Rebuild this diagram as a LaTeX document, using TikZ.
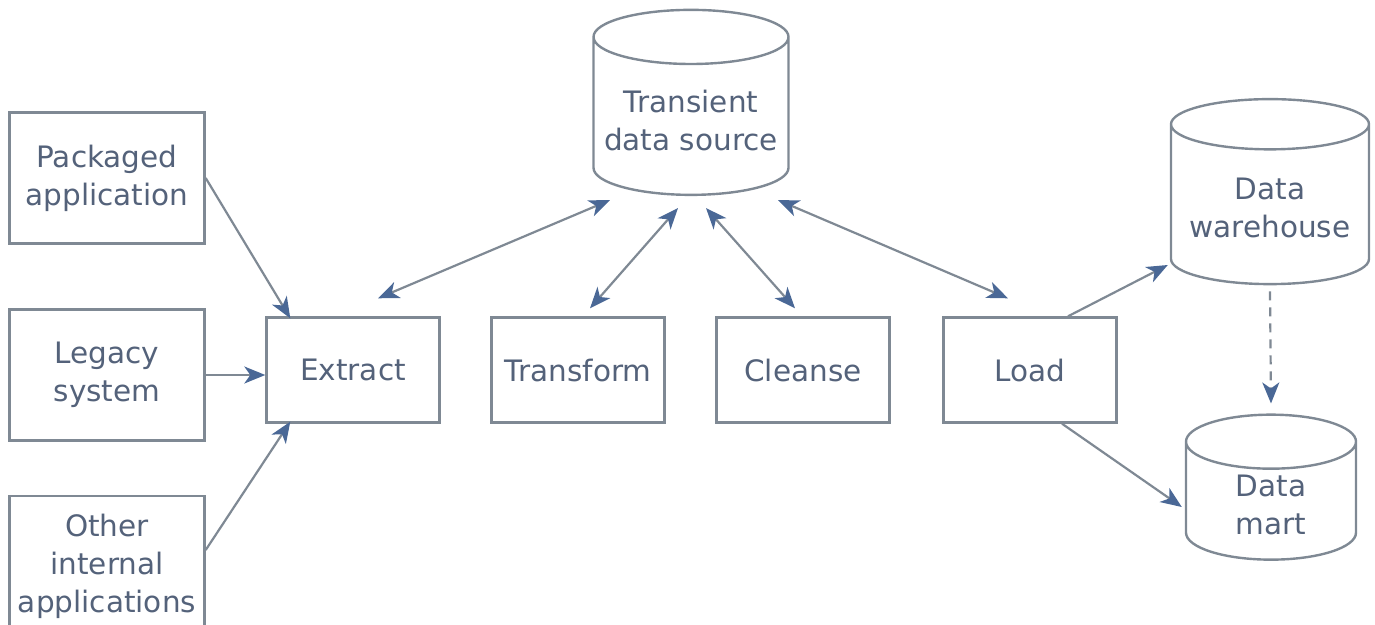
\documentclass[tikz,border=0pt]{standalone}
\usepackage{fontspec}
\setmainfont{DejaVu Sans}
\usepackage{xcolor}
\usetikzlibrary{positioning}
\usetikzlibrary{shapes.geometric,arrows.meta}
\definecolor{edgegray}{HTML}{7F8994}
\definecolor{textblue}{HTML}{54627A}
\definecolor{tipblue}{HTML}{4A6896}
\tikzset{%
  source/.style={rectangle, draw=edgegray, line width=2.4pt, minimum width=195pt, minimum height=131pt, align=center, text=textblue},
  stage/.style={rectangle, draw=edgegray, line width=2.4pt, minimum width=173pt, minimum height=105pt, align=center, text=textblue},
  store/.style={cylinder, shape border rotate=90, aspect=0.3, draw=edgegray, line width=2.4pt, align=center, text=textblue},
  flow/.style={draw=edgegray, line width=2.2pt, -{Stealth[length=21pt,width=17pt,inset=6pt,color=tipblue]}},
  twoway/.style={draw=edgegray, line width=2.2pt, {Stealth[length=21pt,width=17pt,inset=6pt,color=tipblue]}-{Stealth[length=21pt,width=17pt,inset=6pt,color=tipblue]}}
}

\begin{document}
\begin{tikzpicture}[x=1pt,y=-1pt,
    every node/.style={font=\fontsize{29.5}{38}\selectfont},
  ]
    \useasboundingbox (0,0) rectangle (1375,624);

    \node[source] (pkg) at (107,178) {Packaged\\application};
    \node[source] (legacy) at (107,375) {Legacy\\system};
    \node[source, minimum height=140pt] (other) at (107,566) {Other\\internal\\applications};

    \node[stage] (extract) at (353,370) {Extract};
    \node[stage] (transform) at (578,370) {Transform};
    \node[stage] (cleanse) at (803,370) {Cleanse};
    \node[stage] (load) at (1030,370) {Load};

    \node[store, minimum width=195pt, minimum height=185pt] (transient) at (691,120) {Transient\\data source};
    \node[store, minimum width=198pt, minimum height=185pt] (dw) at (1270,208) {Data\\warehouse};
    \node[store, aspect=0.7, minimum width=170pt, minimum height=145pt] (dm) at (1271,505) {Data\\mart};

    \draw[flow] (pkg.east) -- ([xshift=25pt,yshift=-2pt]extract.north west);
    \draw[flow] (legacy.east) -- ([yshift=-5pt]extract.west);
    \draw[flow] ([yshift=16pt]other.east) -- ([xshift=25pt,yshift=2pt]extract.south west);

    \draw[twoway] ([xshift=25pt,yshift=18pt]extract.north) -- ([xshift=-81pt,yshift=-4pt]transient.south);
    \draw[twoway] ([xshift=12pt,yshift=8pt]transform.north) -- ([xshift=-13pt,yshift=-12pt]transient.south);
    \draw[twoway] ([xshift=-8pt,yshift=8pt]cleanse.north) -- ([xshift=15pt,yshift=-12pt]transient.south);
    \draw[twoway] ([xshift=-22pt,yshift=18pt]load.north) -- ([xshift=87pt,yshift=-4pt]transient.south);

    \draw[flow] ([xshift=38pt]load.north) -- ([xshift=-2pt,yshift=-57pt]dw.west);
    \draw[flow] ([xshift=32pt]load.south) -- ([xshift=-3pt,yshift=-2pt]dm.west);
    \draw[flow, dash pattern=on 9pt off 7pt] ([yshift=-6pt]dw.south) -- ([yshift=10pt]dm.north);
  \end{tikzpicture}
\end{document}
